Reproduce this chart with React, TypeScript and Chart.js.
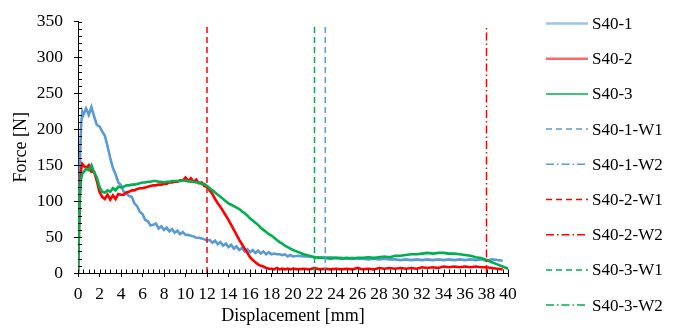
import React, { useEffect, useRef } from "react";
import { Chart, registerables } from "chart.js";

Chart.register(...registerables);

// Displacement [mm] sample positions
const DISP = [
  0, 0.1, 0.2, 0.3, 0.4, 0.5,
  0.75, 1, 1.25, 1.5, 1.75, 2, 2.25, 2.5, 2.75, 3,
  3.25, 3.5, 3.75, 4, 4.25, 4.5, 4.75, 5, 5.25, 5.5,
  5.75, 6, 6.25, 6.5, 6.75, 7, 7.25, 7.5, 7.75, 8,
  8.25, 8.5, 8.75, 9, 9.25, 9.5, 9.75, 10, 10.25, 10.5,
  10.75, 11, 11.25, 11.5, 11.75, 12, 12.25, 12.5, 12.75, 13,
  13.25, 13.5, 13.75, 14, 14.25, 14.5, 14.75, 15, 15.25, 15.5,
  15.75, 16, 16.25, 16.5, 16.75, 17, 17.25, 17.5, 17.75, 18,
  18.25, 18.5, 18.75, 19, 19.25, 19.5, 19.75, 20,
  20.5, 21, 21.5, 22, 22.5, 23, 23.5, 24, 24.5, 25,
  25.5, 26, 26.5, 27, 27.5, 28, 28.5, 29, 29.5, 30,
  30.5, 31, 31.5, 32, 32.5, 33, 33.5, 34, 34.5, 35,
  35.5, 36, 36.5, 37, 37.5, 38, 38.5, 39, 39.5, 40,
];

// Force [N]
const S40_1 = [
  0, 95, 165, 208, 224, 220,
  229, 220, 231, 218, 206, 204, 197, 191, 176, 160,
  146, 137, 126, 122, 113, 111, 107, 106, 97, 93,
  85, 82, 74, 72, 66, 67, 69, 62, 65, 60,
  63, 58, 61, 56, 59, 54, 57, 53, 53, 52,
  51, 49, 49, 48, 47, 45, 46, 42, 45, 40,
  43, 38, 41, 36, 39, 34, 37, 32, 35, 30,
  33, 29, 32, 28, 31, 27, 30, 26, 29, 26,
  27, 26, 26, 25, 26, 23, 25, 23,
  24, 23, 23, 22, 22, 21, 22, 21, 21, 20,
  21, 20, 20, 19, 20, 19, 20, 19, 19, 18,
  19, 18, 19, 18, 19, 18, 19, 18, 19, 18,
  19, 18, 19, 18, 19, 17, 19, 18, 17, null,
];

const S40_2 = [
  0, 60, 120, 145, 152, 150,
  146, 150, 141, 141, 128, 113, 106, 103, 109, 102,
  108, 103, 110, 109, 109, 112, 113, 115, 115, 117,
  118, 118, 119, 120, 121, 122, 122, 123, 123, 124,
  124, 126, 126, 127, 127, 129, 129, 133, 128, 132,
  127, 130, 125, 126, 121, 120, 115, 110, 103, 97,
  92, 86, 80, 74, 67, 60, 53, 46, 40, 34,
  28, 22, 18, 15, 12, 10, 9, 7, 6, 6,
  5, 7, 5, 6, 5, 6, 5, 6,
  5, 6, 5, 7, 5, 6, 5, 6, 5, 6,
  5, 7, 5, 6, 5, 7, 6, 7, 6, 7,
  6, 7, 6, 8, 7, 8, 7, 9, 8, 9,
  8, 9, 8, 9, 8, 8, 7, 6, 5, null,
];

const S40_3 = [
  0, 70, 118, 132, 138, 140,
  145, 143, 150, 140, 133, 120, 113, 112, 115, 113,
  118, 115, 120, 119, 120, 122, 122, 123, 123, 124,
  125, 126, 126, 127, 127, 128, 128, 127, 127, 126,
  127, 127, 128, 128, 128, 128, 129, 128, 128, 127,
  127, 126, 126, 124, 124, 121, 118, 115, 112, 109,
  106, 103, 100, 97, 95, 93, 91, 89, 86, 83,
  80, 76, 73, 70, 67, 63, 60, 57, 54, 52,
  49, 46, 43, 41, 38, 36, 34, 32,
  29, 26, 24, 22, 21, 21, 20, 21, 20, 21,
  20, 21, 21, 22, 21, 22, 23, 22, 24, 24,
  25, 26, 26, 27, 28, 27, 28, 28, 27, 27,
  26, 25, 24, 22, 21, 18, 15, 12, 9, 6,
];

const SERIES_NAMES = ["S40-1", "S40-2", "S40-3"];
const MARKER_NAMES = ["S40-1-W1", "S40-1-W2", "S40-2-W1", "S40-2-W2", "S40-3-W1", "S40-3-W2"];
const MARKER_X: (number | null)[] = [23, null, 12, 38, 22, null];
const MARKER_RANGE = [0, 345];

const BLUE = "#5B9BD5";
const RED = "#FF0000";
const GREEN = "#00B050";
const FONT = "'Liberation Serif', 'Times New Roman', serif";

const DASH = [6, 4];
const DASH_DOT = [8, 3, 1.5, 3];

function toPoints(ys: (number | null)[]) {
  const pts: { x: number; y: number }[] = [];
  DISP.forEach((x, i) => {
    const y = ys[i];
    if (y !== null && y !== undefined) pts.push({ x, y });
  });
  return pts;
}

function markerPoints(x: number | null) {
  if (x === null) return [];
  return MARKER_RANGE.map((y) => ({ x, y }));
}

const decorPlugin = {
  id: "decor",
  afterDraw(chart: any) {
    const { ctx, chartArea: a, scales } = chart;
    const xs = scales.x;
    const ys = scales.y;
    ctx.save();
    ctx.strokeStyle = "#000";
    ctx.lineWidth = 1;
    ctx.setLineDash([]);
    ctx.beginPath();
    for (let k = 0; k <= 80; k++) {
      const px = Math.round(xs.getPixelForValue(k * 0.5)) + 0.5;
      ctx.moveTo(px, a.bottom);
      ctx.lineTo(px, a.bottom - 3.5);
    }
    for (let k = 0; k <= 35; k++) {
      const py = Math.round(ys.getPixelForValue(k * 10)) + 0.5;
      ctx.moveTo(a.left, py);
      ctx.lineTo(a.left + 4, py);
    }
    ctx.stroke();

    chart.data.datasets.forEach((ds: any, i: number) => {
      const y = 23.5 + i * 35.2;
      ctx.save();
      ctx.strokeStyle = ds.legendColor || ds.borderColor;
      ctx.lineWidth = ds.legendWidth || ds.borderWidth;
      ctx.setLineDash(ds.borderDash || []);
      ctx.beginPath();
      ctx.moveTo(546, y);
      ctx.lineTo(588, y);
      ctx.stroke();
      ctx.restore();
      ctx.fillStyle = "#000";
      ctx.font = "17px " + FONT;
      ctx.textBaseline = "middle";
      ctx.textAlign = "left";
      ctx.fillText(ds.label, 592, y + 1);
    });
    ctx.restore();
  },
};

export default function App() {
  const ref = useRef<HTMLCanvasElement>(null);

  useEffect(() => {
    document.body.style.margin = "0";
    const seriesColors = [BLUE, RED, GREEN];
    const legendColors = ["rgba(91,155,213,0.6)", "rgba(255,0,0,0.6)", GREEN];
    const seriesData = [S40_1, S40_2, S40_3];
    const markerColors = [BLUE, BLUE, RED, RED, GREEN, GREEN];
    const markerDashes = [DASH, DASH_DOT, DASH, DASH_DOT, DASH, DASH_DOT];

    const datasets: any[] = [];
    SERIES_NAMES.forEach((name, i) => {
      datasets.push({
        label: name,
        data: toPoints(seriesData[i]),
        borderColor: seriesColors[i],
        legendColor: legendColors[i],
        legendWidth: i === 2 ? 1.5 : 2.5,
        borderWidth: 2.6,
        pointRadius: 0,
        fill: false,
        tension: 0,
        order: 3 - i,
      });
    });
    MARKER_NAMES.forEach((name, i) => {
      datasets.push({
        label: name,
        data: markerPoints(MARKER_X[i]),
        borderColor: markerColors[i],
        borderDash: markerDashes[i],
        borderWidth: 1.5,
        pointRadius: 0,
        fill: false,
        order: 0,
      });
    });

    const tickFont = { family: FONT, size: 17.5 };
    const titleFont = { family: FONT, size: 18 };

    const chart = new Chart(ref.current as HTMLCanvasElement, {
      type: "line",
      data: { datasets },
      options: {
        responsive: false,
        animation: false,
        layout: { padding: { top: 16, right: 172, left: 0, bottom: 0 } },
        plugins: {
          legend: { display: false },
          tooltip: { enabled: false },
        },
        elements: { point: { radius: 0 } },
        scales: {
          x: {
            type: "linear",
            min: 0,
            max: 40,
            ticks: {
              stepSize: 2,
              color: "#000",
              font: tickFont,
              padding: 7,
              maxRotation: 0,
              autoSkip: false,
            },
            grid: { drawOnChartArea: false, drawTicks: true, tickLength: 4, color: "#000" },
            border: { color: "#000", width: 1 },
            title: {
              display: true,
              text: "Displacement [mm]",
              color: "#000",
              font: titleFont,
              padding: { top: 0, bottom: 3 },
            },
            afterFit: (s: any) => {
              s.height = 57;
            },
          },
          y: {
            type: "linear",
            min: 0,
            max: 350,
            ticks: {
              stepSize: 50,
              color: "#000",
              font: tickFont,
              padding: 11,
            },
            grid: { drawOnChartArea: false, drawTicks: true, tickLength: 4, color: "#000" },
            border: { color: "#000", width: 1 },
            title: {
              display: true,
              text: "Force [N]",
              color: "#000",
              font: titleFont,
              padding: { top: 10, bottom: 0 },
            },
            afterFit: (s: any) => {
              s.width = 78;
            },
          },
        },
      } as any,
      plugins: [decorPlugin],
    });
    return () => chart.destroy();
  }, []);

  return (
    <div style={{ width: 680, height: 330 }}>
      <canvas ref={ref} width={680} height={330} style={{ display: "block" }} />
    </div>
  );
}
